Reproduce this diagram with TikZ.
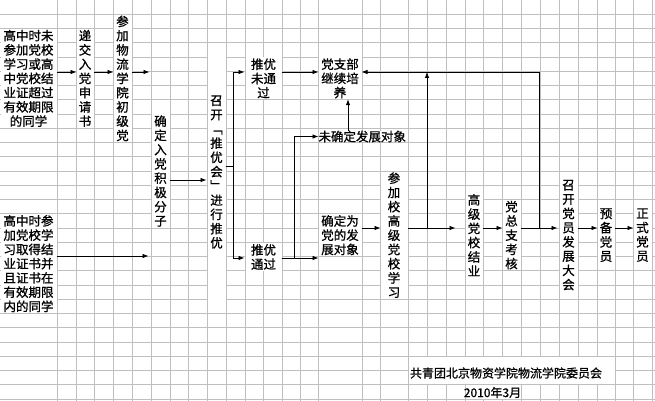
\documentclass[tikz,border=0pt]{standalone}
\usepackage{fontspec}
\newfontfamily\cjk{Noto Sans CJK SC}[FakeBold=0.9]
\usetikzlibrary{arrows.meta}
\begin{document}
\begin{tikzpicture}[x=1pt,y=-1pt,
  grid/.style={draw=gray!50, line width=0.6pt},
  cell/.style={fill=white, inner sep=0pt, outer sep=0pt, align=center,
    font=\cjk\fontsize{12.5}{14.25}\selectfont},
  small/.style={inner sep=0pt, font=\cjk\fontsize{12}{14.25}\selectfont},
  ln/.style={line width=0.8pt},
  arr/.style={ln, -{Latex[length=6pt,width=4.5pt]}}]
\useasboundingbox (0,0) rectangle (655,401);
\fill[white] (0,0) rectangle (655,401);
% spreadsheet grid
\foreach \k in {1,...,28} \draw[grid] (0,\k*14.25) -- (655,\k*14.25);
\foreach \x in {57,76,94,113,132,151,170,188,207,226,245,263,282,300,318,362,380,408,427,446,465,483,502,521,540,559,578,597,615,633,652}
  \draw[grid] (\x,0) -- (\x,401);
% merged cells with text
\node[cell, minimum width=56pt, minimum height=98.75pt] (lt) at (28.5,78.375)
  {高中时未\\参加党校\\学习或高\\中党校结\\业证超过\\有效期限\\的同学};
\node[cell, minimum width=56pt, minimum height=98.75pt] (lb) at (28.5,263.625)
  {高中时参\\加党校学\\习取得结\\业证书并\\且证书在\\有效期限\\内的同学};
\node[cell, minimum width=17pt, minimum height=98.75pt] (sq) at (85,78.375)
  {递\\交\\入\\党\\申\\请\\书};
\node[cell, minimum width=18pt, minimum height=127.25pt] (cj) at (122.5,78.375)
  {参\\加\\物\\流\\学\\院\\初\\级\\党};
\node[cell, minimum width=18pt, minimum height=113pt] (jj) at (160.5,171)
  {确\\定\\入\\党\\积\\极\\分\\子};
\node[cell, minimum width=18pt, minimum height=255.5pt] (ty) at (216.5,172)
  {召\\开\\﹁\\推\\优\\会\\﹂\\进\\行\\推\\优};
\node[cell, minimum width=36pt, minimum height=41.75pt] (wtg) at (263.5,78.375)
  {推优\\未通\\过};
\node[cell, minimum width=43pt, minimum height=41.75pt] (zb) at (340,78.375)
  {党支部\\继续培\\养};
\node[cell, anchor=west, text width=88.5pt, align=left, minimum height=11.5pt] (wqd) at (318.5,136.5)
  {未确定发展对象};
\node[cell, minimum width=36pt, minimum height=27.5pt] (tg) at (263.5,257)
  {推优\\通过};
\node[cell, minimum width=43pt, minimum height=41.75pt] (qdw) at (340,235.125)
  {确定为\\党的发\\展对象};
\node[cell, minimum width=27pt, minimum height=127.25pt] (gj) at (394,235.125)
  {参\\加\\校\\高\\级\\党\\校\\学\\习};
\node[cell, minimum width=17pt, minimum height=98.75pt] (jy) at (474,235.125)
  {高\\级\\党\\校\\结\\业};
\node[cell, minimum width=18pt, minimum height=70.25pt] (zz) at (511.5,235.125)
  {党\\总\\支\\考\\核};
\node[cell, minimum width=18pt, minimum height=127.25pt] (dh) at (568.5,235.125)
  {召\\开\\党\\员\\发\\展\\大\\会};
\node[cell, minimum width=17pt, minimum height=70.25pt] (yb) at (606,235.125)
  {预\\备\\党\\员};
\node[cell, minimum width=18pt, minimum height=70.25pt] (zs) at (642.5,235.125)
  {正\\式\\党\\员};
% footer
\fill[white] (408.5,356.75) rectangle (614.5,384.25);
\fill[white] (465.5,385.25) rectangle (520.5,398.5);
\node[small] (org) at (506,373) {共青团北京物资学院物流学院委员会};
\node[small] (date) at (492.5,392.5) {2010年3月};
% helper coordinates (rows / columns of connectors)
\coordinate (r72) at (0,72);
\coordinate (r166) at (0,166);
\coordinate (r180) at (0,180);
\coordinate (r228) at (0,228);
\coordinate (r256) at (0,256);
\coordinate (r258) at (0,258);
\coordinate (fk) at (233,166);
\coordinate (fk2) at (294,258);
\coordinate (c348) at (348,0);
\coordinate (f427) at (427,228);
\coordinate (f539) at (539,228);
% connectors
\draw[arr] (lt.east |- r72) -- (sq.west |- r72);
\draw[arr] (sq.east |- r72) -- (cj.west |- r72);
\draw[arr, shorten >=2pt] (cj.east |- r72) -- (jj.west |- r72);
\draw[arr, shorten >=3pt] (lb.east |- r256) -- (jj.west |- r256);
\draw[arr, shorten >=1pt] (jj.east |- r180) -- (ty.west |- r180);
\draw[ln] (ty.east |- fk) -- (fk);
\draw[arr, shorten >=1pt] (fk) |- (wtg.west |- r72);
\draw[arr, shorten >=1pt] (fk) |- (tg.west |- r258);
\draw[arr] (wtg.east |- r72) -- (zb.west |- r72);
\draw[arr] (tg.east |- r258) -- (qdw.west |- r258);
\draw[arr] (fk2) |- (wqd.west);
\draw[arr] (c348 |- wqd.north) -- (c348 |- zb.south);
\draw[arr] (qdw.east |- r228) -- (gj.west |- r228);
\draw[arr, shorten >=10pt] (gj.east |- r228) -- (jy.west |- r228);
\draw[arr] (jy.east |- r228) -- (zz.west |- r228);
\draw[arr, shorten >=2pt] (zz.east |- r228) -- (dh.west |- r228);
\draw[arr] (dh.east |- r228) -- (yb.west |- r228);
\draw[arr] (yb.east |- r228) -- (zs.west |- r228);
\draw[arr] (f427) -- (f427 |- r72);
\draw[arr] (f539) |- (zb.east |- r72);
\end{tikzpicture}
\end{document}
